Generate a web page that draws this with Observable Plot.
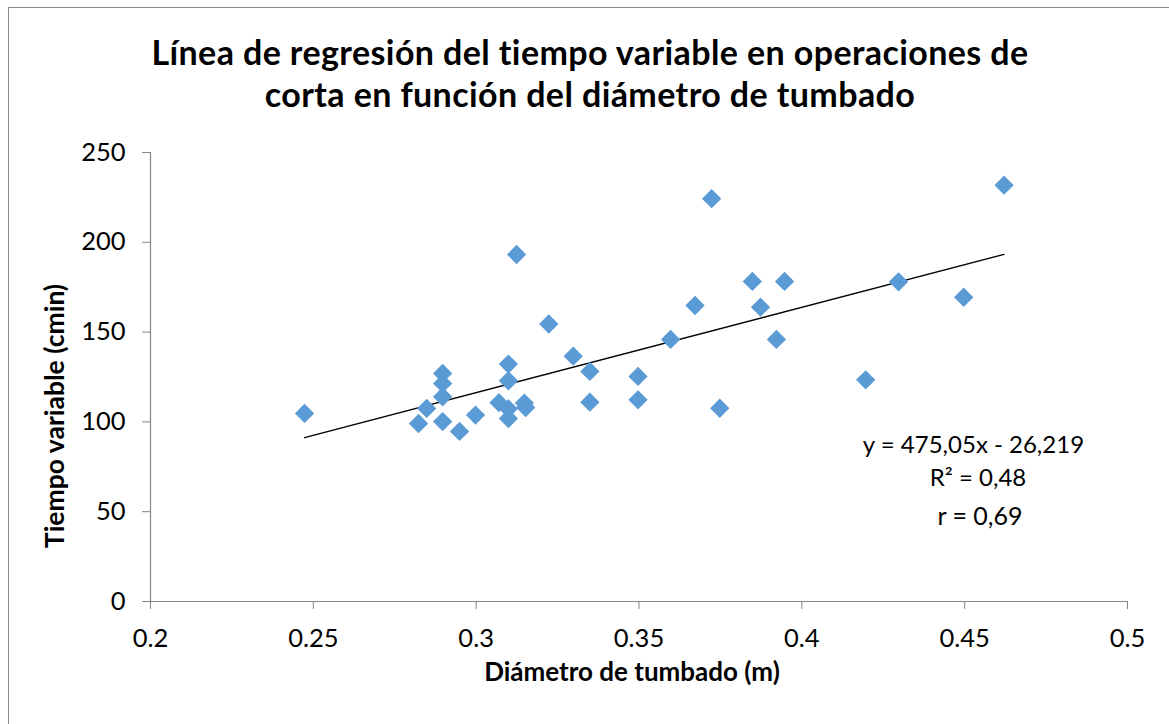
<!DOCTYPE html>
<html>
<head>
<meta charset="utf-8">
<script src="https://cdn.jsdelivr.net/npm/d3@7"></script>
<script src="https://cdn.jsdelivr.net/npm/@observablehq/plot@0.6"></script>
<style>
  html, body { margin: 0; padding: 0; background: #fff; }
  #wrap { position: relative; width: 1169px; height: 724px; overflow: hidden; font-family: Lato, "Open Sans", sans-serif; }
  #border { position: absolute; left: 8px; top: 7px; width: 1300px; height: 900px; border-left: 1px solid #8a8a8a; border-top: 1px solid #8a8a8a; }
  #title { position: absolute; left: 0; top: 31px; width: 1180px; text-align: center; font-weight: 700; font-size: 34px; line-height: 42px; letter-spacing: 0.4px; color: #000; }
  #chart { position: absolute; left: 0; top: 0; }
</style>
</head>
<body>
<div id="wrap">
  <div id="border"></div>
  <div id="chart"></div>
  <div id="title">Línea de regresión del tiempo variable en operaciones de<br>corta en función del diámetro de tumbado</div>
</div>
<script>
// Data
const diametro = [0.2473, 0.2823, 0.2848, 0.2897, 0.2897, 0.2897, 0.2897, 0.2949, 0.2998, 0.3070,
                  0.3099, 0.3099, 0.3099, 0.3099, 0.3124, 0.3148, 0.3152, 0.3223, 0.3298, 0.3349,
                  0.3349, 0.3497, 0.3497, 0.3597, 0.3672, 0.3723, 0.3748, 0.3848, 0.3873, 0.3922,
                  0.3947, 0.4196, 0.4297, 0.4497, 0.4621];
const tiempo =   [104.7, 99.1, 107.5, 127.0, 121.4, 114.0, 100.2, 94.7, 103.8, 110.7,
                  132.2, 122.9, 107.3, 101.9, 193.2, 110.5, 108.0, 154.5, 136.6, 128.1,
                  111.0, 125.3, 112.3, 145.9, 164.8, 224.3, 107.6, 178.2, 163.9, 145.9,
                  178.2, 123.4, 178.0, 169.4, 231.8];
const slope = 475.05;
const intercept = -26.219;
const xTicks = [0.2, 0.25, 0.3, 0.35, 0.4, 0.45, 0.5];
const xTickLabels = ["0.2", "0.25", "0.3", "0.35", "0.4", "0.45", "0.5"];
const yTicks = [0, 50, 100, 150, 200, 250];
const xTitle = "Diámetro de tumbado (m)";
const yTitle = "Tiempo variable (cmin)";
const eqLabel = "y = 475,05x - 26,219";
const r2Label = "R² = 0,48";
const rLabel = "r = 0,69";

const points = diametro.map((d, i) => ({x: d, y: tiempo[i]}));
const xExt = d3.extent(diametro);
const regLine = xExt.map(x => ({x, y: slope * x + intercept}));
const axisGray = "#868686";

const chart = Plot.plot({
  width: 1169,
  height: 724,
  marginLeft: 150,
  marginRight: 42,
  marginTop: 152,
  marginBottom: 123,
  style: {fontFamily: "Lato, 'Open Sans', sans-serif", fontSize: "25px", color: "#000", background: "transparent", overflow: "visible"},
  x: {domain: [0.2, 0.5]},
  y: {domain: [0, 250]},
  marks: [
    Plot.ruleX([0.2], {stroke: axisGray, strokeWidth: 1.2}),
    Plot.ruleY([0], {stroke: axisGray, strokeWidth: 1.2}),
    Plot.axisX({ticks: xTicks, tickFormat: (d) => xTickLabels[xTicks.indexOf(d)], tickSize: 8, tickPadding: 19, stroke: axisGray, fill: "#000", fontSize: 25.5, label: null}),
    Plot.axisY({ticks: yTicks, tickSize: 8, tickPadding: 17, stroke: axisGray, fill: "#000", fontSize: 25.5, label: null}),
    Plot.line(regLine, {x: "x", y: "y", stroke: "#000", strokeWidth: 1.3}),
    Plot.dot(points, {x: "x", y: "y", symbol: "diamond2", r: 8.7, fill: "#5B9BD5", stroke: "none"}),
    Plot.text([xTitle], {frameAnchor: "bottom", dx: -7, dy: 71, text: d => d, textAnchor: "middle", lineAnchor: "middle", fontSize: 26, fontWeight: "bold", fill: "#000"}),
    Plot.text([yTitle], {frameAnchor: "left", dx: -95, dy: 39, rotate: -90, text: d => d, textAnchor: "middle", lineAnchor: "middle", fontSize: 26.5, fontWeight: "bold", fill: "#000"}),
    Plot.text([eqLabel], {x: 0.4527, y: 86.9, text: d => d, fontSize: 24, fill: "#000"}),
    Plot.text([r2Label], {x: 0.4541, y: 68.5, text: d => d, fontSize: 24, fill: "#000"}),
    Plot.text([rLabel], {x: 0.4547, y: 46.8, text: d => d, fontSize: 25, fill: "#000"})
  ]
});
document.getElementById("chart").appendChild(chart);
</script>
</body>
</html>
